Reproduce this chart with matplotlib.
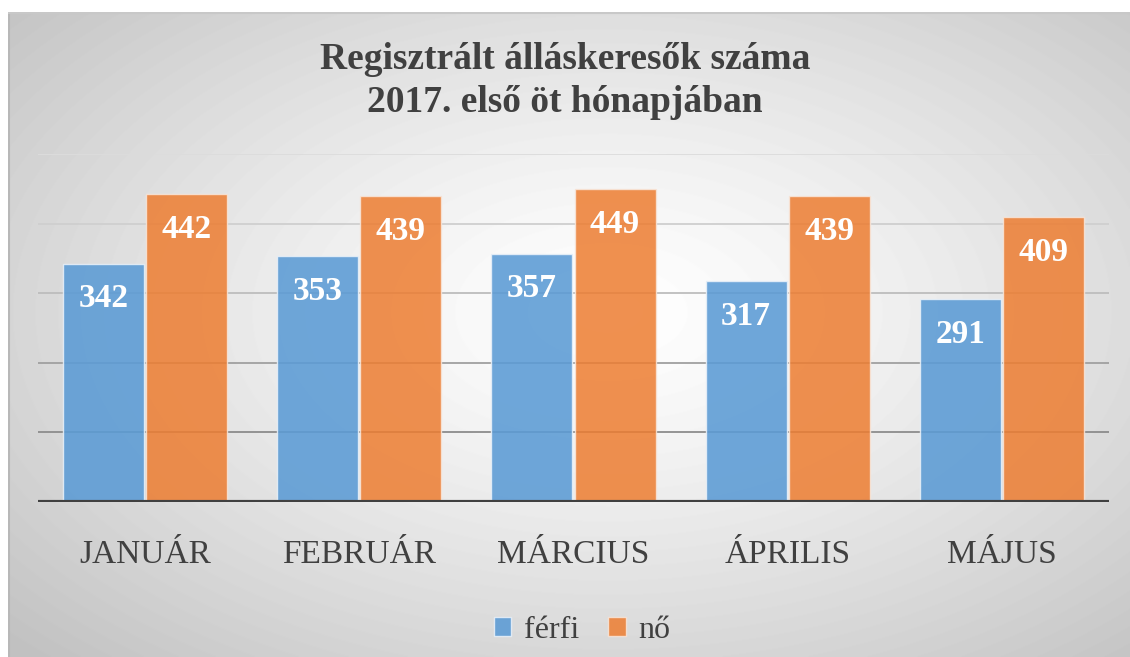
import numpy as np
import matplotlib.pyplot as plt

honapok = ['JANUÁR', 'FEBRUÁR', 'MÁRCIUS', 'ÁPRILIS', 'MÁJUS']
ferfi = [342, 353, 357, 317, 291]
no = [442, 439, 449, 439, 409]
sorozatok = ['férfi', 'nő']
racs = [100, 200, 300, 400, 500]

plt.rcParams['font.family'] = ['Liberation Serif', 'DejaVu Serif']

fig = plt.figure(figsize=(11.3, 6.57), dpi=100)
W, H = 1130, 657

# radial gradient background of the chart area
bg = fig.add_axes([8 / W, 0, 1 - 8 / W, 1 - 12 / H])
yy, xx = np.mgrid[0:645, 0:1122]
d = np.sqrt(((xx - 600) / 560.0) ** 2 + ((yy - 300) / 330.0) ** 2)
val = 1 - 0.24 * np.clip(d / 1.45, 0, 1) ** 1.3
bg.imshow(val, cmap='gray', vmin=0, vmax=1, aspect='auto', extent=[0, 1, 0, 1])
bg.plot([0.001, 0.001], [0, 1], color='#b8b8b8', lw=1.5)
bg.plot([0, 1], [0.999, 0.999], color='#c8c8c8', lw=1.5)
bg.set_xlim(0, 1)
bg.set_ylim(0, 1)
bg.axis('off')

ax = fig.add_axes([38 / W, 155 / H, 1071 / W, 348 / H])
ax.patch.set_alpha(0)

racs_szin = ['#8c8c8c', '#a0a0a0', '#bdbdbd', '#cfcfcf', '#dcdcdc']
for g, c in zip(racs, racs_szin):
    ax.axhline(g, color=c, lw=1.3, zorder=0)

x = np.arange(len(honapok))
w = 0.378
b1 = ax.bar(x - w / 2 - 0.005, ferfi, w, color='#5b9bd5', alpha=0.88,
            edgecolor='#e8f0f8', linewidth=1, label=sorozatok[0], zorder=2)
b2 = ax.bar(x + w / 2 + 0.005, no, w, color='#ed7d31', alpha=0.85,
            edgecolor='#f8e6da', linewidth=1, label=sorozatok[1], zorder=2)

for bars in (b1, b2):
    for r in bars:
        ax.annotate(str(int(r.get_height())), (r.get_x() + r.get_width() / 2, r.get_height()),
                    xytext=(0, -25), textcoords='offset points', ha='center', va='center',
                    color='white', fontsize=24, fontweight='bold', zorder=3)

ax.axhline(0, color='#404040', lw=3, zorder=4)
ax.set_xlim(-0.5, 4.5)
ax.set_ylim(0, 500)
ax.set_yticks([])
ax.set_xticks(x)
ax.set_xticklabels(honapok, fontsize=24, color='#404040')
ax.tick_params(axis='x', length=0, pad=27)
for s in ax.spines.values():
    s.set_visible(False)

fig.text(0.5, 1 - 81 / H, 'Regisztrált álláskeresők száma\n2017. első öt hónapjában',
         ha='center', va='center', fontsize=27, fontweight='bold', color='#404040',
         linespacing=1.32)

leg = fig.legend(handles=[b1, b2], loc='center', bbox_to_anchor=(0.515, 1 - 630 / H),
                 ncol=2, frameon=False, fontsize=23, handlelength=0.55, handleheight=0.55,
                 handletextpad=0.4, columnspacing=0.9, labelcolor='#404040')

fig.savefig('out.png', dpi=100)
